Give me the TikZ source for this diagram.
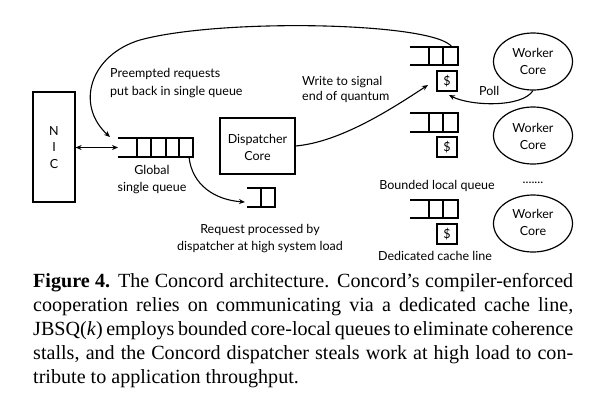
\documentclass[tikz,border=0pt]{standalone}
\usepackage{fontspec}
\setmainfont{Liberation Serif}
\newfontfamily\diagfont{Lato}
\usetikzlibrary{shapes.geometric,arrows.meta}
\newcommand\myLocalQ[3]{%
  \coordinate (#1-tr) at (452,#2);
  \coordinate (#1-l) at (410,{(#2+#3)/2});
  \draw[ln] (410,#2) -- (458,#2) -- (458,#3) -- (410,#3)
    (429,#2) -- (429,#3) (443,#2) -- (443,#3);
}
\begin{document}
\begin{tikzpicture}[x=1pt,y=-1pt,
  lbl/.style={font=\diagfont\fontsize{12.5}{17}\selectfont, inner sep=0pt},
  ln/.style={line width=1.2pt},
  arr/.style={line width=1.1pt, -{Stealth[length=6pt,width=5pt]}},
  boxed/.style={draw, line width=1.2pt, inner sep=0pt},
  worker/.style={ellipse, draw, line width=1.2pt, minimum width=79pt, minimum height=57pt, inner sep=0pt, align=center},
  cache/.style={boxed, minimum width=20pt, minimum height=20pt, font=\diagfont\fontsize{12.5}{17}\selectfont},
  capline/.style={anchor=base west, inner sep=0pt, font=\fontsize{20.1}{24}\selectfont}
]
\useasboundingbox (0,0) rectangle (602,408);

% NIC
\node[boxed, minimum width=42pt, minimum height=110pt] (nic) at (54,147) {};
\node[lbl, anchor=base] (nicN) at (54,135) {N};
\node[lbl, anchor=base] (nicI) at (54,151) {I};
\node[lbl, anchor=base] (nicC) at (54,168) {C};

% global queue
\draw[ln] (118,138) -- (193,138) -- (193,157) -- (118,157)
  (137,138) -- (137,157) (151,138) -- (151,157) (166,138) -- (166,157) (179,138) -- (179,157);
\coordinate (gq-l) at (118,147.5);
\coordinate (gq-tl) at (110,137);
\coordinate (gq-br) at (189,157);
\node[lbl, anchor=base] (glob1) at (152,174) {Global};
\node[lbl, anchor=base] (glob2) at (152,191) {single queue};

\draw[line width=1.1pt, {Stealth[length=6pt,width=5pt]}-{Stealth[length=6pt,width=5pt]}] (nic.east |- gq-l) -- (gq-l);

% dispatcher
\node[boxed, minimum width=75pt, minimum height=56pt] (disp) at (257.5,146) {};
\node[lbl, anchor=base] (disp1) at (257.5,143) {Dispatcher};
\node[lbl, anchor=base] (disp2) at (257.5,160) {Core};

% small queue
\draw[ln] (247,188) -- (275,188) -- (275,207) -- (247,207) (261,188) -- (261,207);
\coordinate (sq-l) at (245,202);
\draw[arr] (gq-br) .. controls (192,185) and (215,200) .. (sq-l);
\node[lbl, anchor=base] (req1) at (260,233) {Request processed by};
\node[lbl, anchor=base] (req2) at (260,250) {dispatcher at high system load};

% preempted
\node[lbl, anchor=base west] (pre1) at (110,77.5) {Preempted requests};
\node[lbl, anchor=base west] (pre2) at (110,95) {put back in single queue};

% local queues
\myLocalQ{q1}{47}{65}
\myLocalQ{q2}{113}{132}
\myLocalQ{q3}{200}{218}
\node[cache] (d1) at (447,81) {\$};
\node[cache] (d2) at (447,147) {\$};
\node[cache] (d3) at (447,234) {\$};

% workers
\node[worker] (w1) at (533,61.5) {};
\node[worker] (w2) at (533,135.5) {};
\node[worker] (w3) at (533,223.5) {};
\foreach \n/\y in {w1/57,w2/132,w3/218}{
  \node[lbl, anchor=base] (\n-a) at (533,\y) {Worker};
  \node[lbl, anchor=base] (\n-b) at (533,\y+17) {Core};
}

% big arc
\draw[arr] (q1-tr) .. controls (435,22) and (220,18) .. (140,40)
  .. controls (90,55) and (75,105) .. (gq-tl);

% write arrow
\coordinate (d1-in) at (428,85);
\draw[arr] (disp.east) .. controls (340,142) and (390,110) .. (d1-in);
\node[lbl, anchor=base west] (wr1) at (302,85) {Write to signal};
\node[lbl, anchor=base west] (wr2) at (302,100) {end of quantum};

% poll
\coordinate (d1-poll) at (449,95);
\draw[arr] (w1.south) .. controls (522,108) and (470,106) .. (d1-poll);
\node[lbl, anchor=base west] (poll) at (479,95) {Poll};

\node[lbl, anchor=base] (bounded) at (437,189) {Bounded local queue};
\node[lbl, anchor=base] (dots) at (533,183) {.......};
\node[lbl, anchor=base] (dedicated) at (435,260) {Dedicated cache line};

% caption
\node[capline] (c1) at (33,287) {\hbox to 540pt{\textbf{Figure 4.} The Concord architecture. Concord's compiler-enforced}};
\node[capline] (c2) at (33,311.5) {\hbox to 540pt{cooperation relies on communicating via a dedicated cache line,}};
\node[capline] (c3) at (33,335.5) {\hbox to 540pt{JBSQ(\textit{k}) employs bounded core-local queues to eliminate coherence}};
\node[capline] (c4) at (33,359.5) {\hbox to 540pt{stalls, and the Concord dispatcher steals work at high load to con-}};
\node[capline] (c5) at (33,383.5) {tribute to application throughput.};
\end{tikzpicture}
\end{document}
